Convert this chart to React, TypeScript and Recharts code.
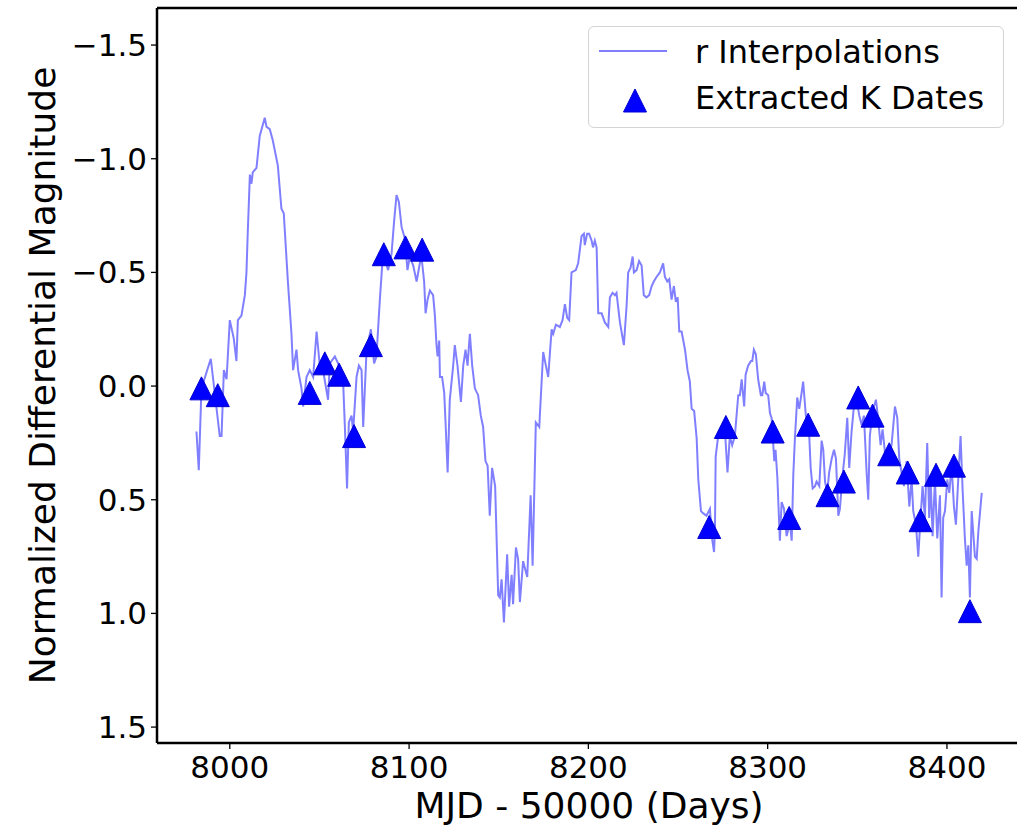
import { ComposedChart, Line, Scatter, XAxis, YAxis, Legend, ReferenceLine } from 'recharts'

// r-band interpolated light curve (MJD - 50000, normalized diff. mag)
const lineDays = [
  7981.4, 7982.7, 7984.2, 7989.4, 7994.4, 7995.4, 7996.7, 7998.2, 8000.0, 8002.2,
  8003.7, 8004.5, 8006.5, 8008.4, 8009.3, 8010.0, 8011.2, 8012.1, 8012.8, 8014.9,
  8016.7, 8019.5, 8020.5, 8022.3, 8024.0, 8026.8, 8028.8, 8030.1, 8032.4, 8034.4,
  8035.3, 8037.2, 8038.1, 8040.0, 8040.9, 8042.8, 8044.6, 8046.5, 8048.4, 8050.2,
  8052.0, 8054.8, 8055.8, 8058.6, 8060.4, 8063.2, 8064.2, 8065.4, 8066.4, 8067.9,
  8068.8, 8070.7, 8072.0, 8073.5, 8074.4, 8076.3, 8078.7, 8080.5, 8081.8, 8083.7,
  8085.5, 8088.3, 8090.2, 8091.7, 8093.0, 8094.3, 8095.8, 8097.6, 8099.1, 8100.4,
  8102.3, 8104.2, 8106.0, 8106.9, 8108.4, 8109.2, 8110.3, 8111.6, 8113.4, 8114.4,
  8115.3, 8115.9, 8116.8, 8117.2, 8118.4, 8119.6, 8120.5, 8121.5, 8122.7, 8124.6,
  8125.5, 8127.0, 8128.9, 8130.2, 8131.5, 8132.6, 8133.9, 8135.2, 8136.7, 8138.5,
  8140.0, 8141.3, 8142.6, 8143.8, 8145.0, 8146.3, 8148.0, 8149.7, 8150.6, 8151.6,
  8152.9, 8154.7, 8155.8, 8157.2, 8158.0, 8159.6, 8160.8, 8161.8, 8163.6, 8165.9,
  8167.8, 8168.9, 8170.7, 8172.6, 8174.8, 8176.3, 8177.6, 8179.5, 8180.4, 8181.9,
  8184.1, 8185.6, 8186.9, 8188.2, 8189.3, 8190.6, 8193.0, 8194.3, 8196.2, 8197.5,
  8198.0, 8199.3, 8200.4, 8201.8, 8202.6, 8203.6, 8204.6, 8205.5, 8207.4, 8209.2,
  8211.1, 8212.0, 8213.5, 8214.8, 8215.7, 8217.6, 8219.8, 8221.3, 8222.2, 8223.5,
  8224.7, 8225.4, 8226.9, 8228.3, 8229.7, 8230.9, 8232.4, 8233.9, 8235.3, 8236.5,
  8238.0, 8239.9, 8241.7, 8242.7, 8244.0, 8245.1, 8246.4, 8247.7, 8248.8, 8249.8,
  8250.7, 8252.0, 8253.9, 8255.3, 8256.6, 8257.6, 8259.0, 8260.4, 8261.3, 8262.8,
  8264.1, 8265.9, 8267.8, 8268.8, 8270.1, 8270.6, 8271.0, 8272.4, 8274.3, 8276.2,
  8277.6, 8278.9, 8280.2, 8281.7, 8283.6, 8284.5, 8285.5, 8286.9, 8287.7, 8289.1,
  8290.7, 8291.4, 8292.3, 8293.4, 8294.7, 8296.2, 8297.0, 8298.1, 8298.9, 8300.3,
  8301.3, 8302.2, 8303.7, 8304.4, 8305.4, 8306.8, 8307.8, 8309.1, 8310.6, 8312.4,
  8313.4, 8314.3, 8315.2, 8316.5, 8317.6, 8318.4, 8319.8, 8321.3, 8323.2, 8324.0,
  8325.1, 8326.4, 8327.3, 8328.8, 8330.1, 8331.0, 8332.0, 8333.2, 8334.3, 8335.7,
  8337.0, 8338.1, 8339.4, 8340.3, 8341.8, 8343.0, 8344.4, 8345.5, 8346.8, 8348.1,
  8349.2, 8351.1, 8352.4, 8353.7, 8355.2, 8356.1, 8357.0, 8358.5, 8360.4, 8361.7,
  8363.0, 8364.1, 8365.4, 8367.3, 8369.1, 8371.0, 8372.3, 8373.4, 8374.7, 8376.0,
  8377.5, 8379.0, 8380.3, 8381.2, 8382.7, 8384.0, 8384.9, 8386.4, 8387.7, 8389.0,
  8390.1, 8390.9, 8392.0, 8393.3, 8394.6, 8396.1, 8397.0, 8397.9, 8398.9, 8400.2,
  8401.3, 8402.6, 8403.9, 8405.0, 8406.3, 8407.6, 8408.7, 8410.0, 8411.0, 8411.9,
  8412.8, 8413.8, 8415.6, 8416.6, 8417.5, 8419.4,
]
const lineMags = [
  0.20, 0.37, 0.01, -0.12, 0.22, 0.22, -0.07, -0.03, -0.29, -0.21,
  -0.11, -0.29, -0.31, -0.40, -0.50, -0.67, -0.93, -0.89, -0.94, -0.96,
  -1.10, -1.18, -1.14, -1.13, -1.08, -0.97, -0.78, -0.76, -0.46, -0.23,
  -0.07, -0.16, -0.07, 0.01, 0.09, -0.04, -0.07, -0.04, -0.24, -0.09,
  -0.07, 0.06, -0.10, -0.13, -0.10, -0.02, 0.18, 0.45, 0.16, 0.13,
  0.20, -0.04, -0.09, -0.07, 0.18, -0.16, -0.25, -0.10, -0.13, -0.38,
  -0.59, -0.51, -0.58, -0.73, -0.84, -0.81, -0.70, -0.65, -0.51, -0.57,
  -0.53, -0.46, -0.54, -0.57, -0.46, -0.32, -0.38, -0.42, -0.40, -0.31,
  -0.18, -0.13, -0.20, -0.04, -0.04, 0.03, 0.19, 0.38, 0.06, -0.09,
  -0.18, -0.09, 0.07, -0.09, -0.16, -0.09, -0.23, -0.09, 0.01, 0.04,
  0.13, 0.18, 0.33, 0.35, 0.57, 0.36, 0.44, 0.92, 0.93, 0.85,
  1.04, 0.74, 0.97, 0.83, 0.96, 0.71, 0.76, 0.95, 0.77, 0.84,
  0.48, 0.79, 0.16, 0.18, -0.15, -0.09, -0.04, -0.25, -0.23, -0.27,
  -0.26, -0.29, -0.36, -0.30, -0.29, -0.50, -0.51, -0.54, -0.66, -0.67,
  -0.62, -0.67, -0.67, -0.64, -0.61, -0.64, -0.61, -0.32, -0.32, -0.28,
  -0.26, -0.39, -0.41, -0.40, -0.41, -0.28, -0.18, -0.35, -0.50, -0.52,
  -0.57, -0.50, -0.51, -0.55, -0.53, -0.40, -0.39, -0.40, -0.44, -0.46,
  -0.48, -0.50, -0.54, -0.48, -0.46, -0.47, -0.38, -0.44, -0.37, -0.39,
  -0.24, -0.24, -0.16, -0.07, -0.02, 0.10, 0.11, 0.23, 0.41, 0.55,
  0.56, 0.57, 0.54, 0.66, 0.73, 0.63, 0.31, 0.22, 0.18, 0.20,
  0.38, 0.22, 0.26, 0.22, 0.04, 0.04, -0.03, 0.09, -0.05, -0.09,
  -0.11, -0.11, -0.16, -0.14, -0.03, 0.04, 0.04, -0.02, 0.03, 0.04,
  0.12, 0.14, 0.33, 0.28, 0.40, 0.68, 0.51, 0.54, 0.66, 0.60,
  0.68, 0.39, 0.23, 0.05, 0.10, 0.06, -0.02, 0.13, 0.22, 0.36,
  0.45, 0.44, 0.42, 0.44, 0.24, 0.28, 0.42, 0.47, 0.38, 0.32,
  0.28, 0.32, 0.57, 0.54, 0.39, 0.30, 0.14, 0.36, 0.20, 0.09,
  0.04, 0.13, 0.17, 0.13, 0.38, 0.50, 0.22, 0.11, 0.06, 0.15,
  0.26, 0.19, 0.29, 0.31, 0.26, 0.09, 0.14, 0.32, 0.38, 0.44,
  0.33, 0.53, 0.41, 0.55, 0.61, 0.75, 0.63, 0.44, 0.58, 0.25,
  0.58, 0.41, 0.66, 0.41, 0.67, 0.48, 0.93, 0.58, 0.55, 0.41,
  0.47, 0.35, 0.53, 0.61, 0.41, 0.22, 0.45, 0.67, 0.79, 0.70,
  0.93, 0.55, 0.75, 0.76, 0.64, 0.47,
]

// extracted K-band epochs
const kDays = [
  7984.2, 7993.3, 8044.6, 8053.0, 8061.0, 8069.3, 8078.7, 8085.9, 8098.0, 8107.3,
  8267.4, 8276.7, 8302.8, 8312.0, 8322.6, 8333.4, 8342.5, 8350.5, 8358.5, 8367.8,
  8378.1, 8385.3, 8393.9, 8403.9, 8412.8,
]
const kMags = [
  0.01, 0.04, 0.03, -0.10, -0.05, 0.22, -0.18, -0.58, -0.61, -0.60,
  0.62, 0.18, 0.20, 0.58, 0.17, 0.48, 0.42, 0.05, 0.13, 0.30,
  0.38, 0.59, 0.39, 0.35, 0.99,
]

const xTicks = [8000, 8100, 8200, 8300, 8400]
const yTicks = [-1.5, -1.0, -0.5, 0.0, 0.5, 1.0, 1.5]

const lineData = lineDays.map((d, i) => ({ x: d, y: lineMags[i] }))
const kData = kDays.map((d, i) => ({ x: d, y: kMags[i] }))

const font = '"DejaVu Sans", sans-serif'
const xDomain: [number, number] = [7959.4, 8441.3]
const yDomain: [number, number] = [-1.663, 1.57]
const fmtY = (v: number) => (v < 0 ? '\u2212' : '') + Math.abs(v).toFixed(1)

const Tri = (props: any) => {
  const { cx, cy } = props
  const r = 11.5
  return (
    <polygon
      points={`${cx},${cy - r} ${cx - r},${cy + r} ${cx + r},${cy + r}`}
      fill="#0000ff"
      stroke="#0000d0"
      strokeWidth={1}
    />
  )
}

const LegendBox = () => (
  <div style={{ width: 416, height: 102, boxSizing: 'border-box', border: '1.5px solid #d4d4d4', borderRadius: 6, background: 'rgba(255,255,255,0.85)', position: 'relative' }}>
    <svg width={413} height={99} style={{ position: 'absolute', left: 0, top: 0 }}>
      <line x1={10} y1={24} x2={78} y2={24} stroke="#0000ff" strokeOpacity={0.5} strokeWidth={2} />
      <polygon points="46,62 34.5,85 57.5,85" fill="#0000ff" stroke="#0000d0" strokeWidth={1} />
      <text x={106} y={36} fontSize={32} fontFamily={font} fill="#000">r Interpolations</text>
      <text x={106} y={82} fontSize={32} fontFamily={font} fill="#000">Extracted K Dates</text>
    </svg>
  </div>
)

const XLabel = (p: any) => {
  const vb = p.viewBox
  return (
    <text x={vb.x + vb.width / 2} y={vb.y + vb.height - 8} textAnchor="middle" fontSize={36} fontFamily={font} fill="#000">
      MJD - 50000 (Days)
    </text>
  )
}

const YLabel = (p: any) => {
  const vb = p.viewBox
  const cx = vb.x + 55
  const cy = vb.y + vb.height / 2
  return (
    <text x={cx} y={cy} transform={`rotate(-90 ${cx} ${cy})`} textAnchor="middle" fontSize={36} fontFamily={font} fill="#000">
      Normalized Differential Magnitude
    </text>
  )
}

export default function App() {
  const tickStyle = { fill: '#000', fontSize: 31, fontFamily: font }
  const spine = { stroke: '#000', strokeWidth: 2.5 }
  return (
    <div style={{ position: 'absolute', left: 0, top: 0, width: 1017, height: 826, overflow: 'hidden', background: '#fff' }}>
      <ComposedChart width={1032} height={826} margin={{ top: 8, right: 11, bottom: 0, left: 0 }}>
        <XAxis
          type="number" dataKey="x" domain={xDomain} allowDataOverflow ticks={xTicks} interval={0}
          height={83} tick={tickStyle} tickSize={6} tickMargin={7}
          tickLine={{ stroke: '#000', strokeWidth: 1.3 }} axisLine={spine}
          label={{ content: XLabel }}
        />
        <YAxis
          type="number" dataKey="y" domain={yDomain} reversed allowDataOverflow ticks={yTicks} interval={0}
          width={157} tick={tickStyle} tickSize={6} tickMargin={4} tickFormatter={fmtY}
          tickLine={{ stroke: '#000', strokeWidth: 1.3 }} axisLine={spine}
          label={{ content: YLabel }}
        />
        <ReferenceLine y={yDomain[0]} stroke="#000" strokeWidth={2.5} ifOverflow="visible" />
        <ReferenceLine x={xDomain[1]} stroke="#000" strokeWidth={2.5} ifOverflow="visible" />
        <Line data={lineData} dataKey="y" type="linear" stroke="#0000ff" strokeOpacity={0.5} strokeWidth={2} dot={false} activeDot={false} isAnimationActive={false} />
        <Scatter data={kData} dataKey="y" shape={Tri} isAnimationActive={false} />
        <Legend layout="horizontal" verticalAlign="middle" align="center" content={LegendBox} wrapperStyle={{ position: 'absolute', left: 588, top: 26, width: 416, height: 102 }} />
      </ComposedChart>
    </div>
  )
}
